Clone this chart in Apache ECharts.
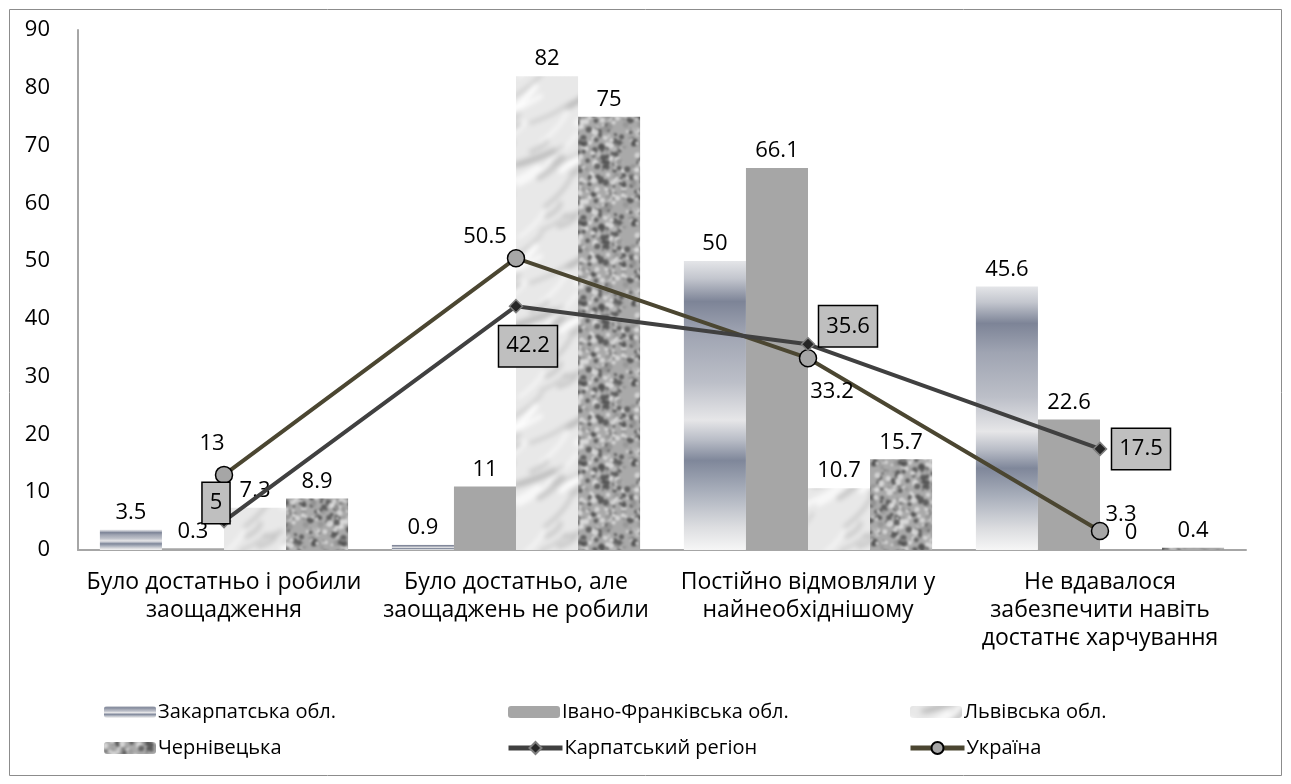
<!DOCTYPE html>
<html><head><meta charset="utf-8">
<script src="https://cdn.jsdelivr.net/npm/echarts@6/dist/echarts.min.js"></script>
<style>html,body{margin:0;padding:0;background:#fff}#c{width:1291px;height:784px}</style>
</head><body><div id="c"></div>
<script>
const categories = ["Було достатньо і робили\nзаощадження", "Було достатньо, але\nзаощаджень не робили", "Постійно відмовляли у\nнайнеобхіднішому", "Не вдавалося\nзабезпечити навіть\nдостатнє харчування"];
const zakarpatska = [3.5, 0.9, 50, 45.6];
const ivanoFrankivska = [0.3, 11, 66.1, 22.6];
const lvivska = [7.3, 82, 10.7, 0];
const chernivetska = [8.9, 75, 15.7, 0.4];
const karpatskyi = [5, 42.2, 35.6, 17.5];
const ukraina = [13, 50.5, 33.2, 3.3];
const seriesNames = ["Закарпатська обл.", "Івано-Франківська обл.", "Львівська обл.", "Чернівецька", "Карпатський регіон", "Україна"];
const yTicks = {min: 0, max: 90, interval: 10};

const FONT = "'Open Sans', 'Noto Sans', sans-serif";
const FS = 22;

// deterministic pseudo-random for textures only
let seed = 12345;
function rnd(){ seed = (seed * 1103515245 + 12345) % 2147483648; return seed / 2147483648; }

function seamlessBlur(a, w, h, blur){
  const big = document.createElement('canvas'); big.width = w*3; big.height = h*3;
  const g = big.getContext('2d');
  for (let i=0;i<3;i++) for (let j=0;j<3;j++) g.drawImage(a, i*w, j*h);
  const big2 = document.createElement('canvas'); big2.width = w*3; big2.height = h*3;
  const g2 = big2.getContext('2d'); g2.filter = 'blur(' + blur + 'px)'; g2.drawImage(big,0,0);
  const out = document.createElement('canvas'); out.width = w; out.height = h;
  out.getContext('2d').drawImage(big2, w, h, w, h, 0, 0, w, h);
  return out;
}
function granite(){
  const w = 80, h = 80;
  const a = document.createElement('canvas'); a.width = w; a.height = h;
  const c = a.getContext('2d');
  c.fillStyle = '#a9a9a9'; c.fillRect(0,0,w,h);
  for (let i=0;i<300;i++){
    const x=rnd()*w, y=rnd()*h, r=1+rnd()*2.2;
    const t=rnd();
    c.fillStyle = t<0.4 ? 'rgba(80,80,80,0.8)' : (t<0.8 ? 'rgba(220,220,220,0.85)' : 'rgba(150,150,150,0.9)');
    for (const dx of [-w,0,w]) for (const dy of [-h,0,h]){
      c.beginPath(); c.arc(x+dx,y+dy,r,0,Math.PI*2); c.fill();
    }
  }
  return seamlessBlur(a, w, h, 1);
}
function marble(){
  const w = 100, h = 160;
  const a = document.createElement('canvas'); a.width = w; a.height = h;
  const c = a.getContext('2d');
  c.fillStyle = '#e8e8e8'; c.fillRect(0,0,w,h);
  c.lineCap = 'round';
  for (let i=0;i<34;i++){
    const x=rnd()*w, y=rnd()*h, len=15+rnd()*35;
    const ang = -0.9 + rnd()*0.6;
    c.strokeStyle = rnd()<0.7 ? 'rgba(180,180,180,0.6)' : 'rgba(255,255,255,0.9)';
    c.lineWidth = 2+rnd()*5;
    for (const dx of [-w,0,w]) for (const dy of [-h,0,h]){
      c.beginPath(); c.moveTo(x+dx,y+dy);
      c.quadraticCurveTo(x+dx+len*0.5*Math.cos(ang)+6, y+dy+len*0.5*Math.sin(ang), x+dx+len*Math.cos(ang), y+dy+len*Math.sin(ang));
      c.stroke();
    }
  }
  return seamlessBlur(a, w, h, 2.5);
}
const graniteImg = granite();
const marbleImg = marble();

const metal = {type:'linear', x:0, y:0, x2:0, y2:1, colorStops:[
  {offset:0, color:'#e4e5e8'}, {offset:0.06, color:'#c3c6ce'}, {offset:0.14, color:'#7d8497'},
  {offset:0.25, color:'#9fa4b2'}, {offset:0.42, color:'#bcbfc8'}, {offset:0.55, color:'#e6e6e8'},
  {offset:0.62, color:'#b8bcc6'}, {offset:0.69, color:'#7f879a'}, {offset:0.8, color:'#aab0bc'},
  {offset:0.92, color:'#dcdde0'}, {offset:1, color:'#f6f6f6'}]};

const barLabel = {show:true, position:'top', distance:6, color:'#000', fontSize:FS, fontFamily:FONT};

const boxLabel = {show:true, position:'inside', color:'#000', fontSize:FS, fontFamily:FONT,
  backgroundColor:'#bfbfbf', borderColor:'#000', borderWidth:1.5, padding:[10,7,8,7]};
const karpOffsets = [[-8,-18],[12,40],[40,-18],[41,0]];
const ukrOffsets = [[-12,-31],[-31,-21],[24,34],[21,-16]];

const chart = echarts.init(document.getElementById('c'), null, {renderer:'canvas'});

function legendAt(name, left, top, isLine){
  const d = {name:name};
  if (isLine) d.lineStyle = {width:5};
  return {data:[d], left:left, top:top, padding:0, itemWidth:isLine?54:52, itemHeight:isLine?15:12, itemGap:0,
    textStyle:{fontSize:20, fontFamily:FONT, color:'#000', padding:[0,0,0,-3]}, selectedMode:false};
}

chart.setOption({
  animation:false,
  backgroundColor:'#fff',
  graphic:[{type:'rect', shape:{x:9.5, y:9.5, width:1272, height:766}, style:{fill:'none', stroke:'#8c8c8c', lineWidth:1}, silent:true}],
  grid:{left:78, right:45, top:30, bottom:234},
  legend:[
    legendAt(seriesNames[0], 104, 702), legendAt(seriesNames[1], 508, 702), legendAt(seriesNames[2], 910, 702),
    legendAt(seriesNames[3], 104, 738), legendAt(seriesNames[4], 506, 738, true), legendAt(seriesNames[5], 908, 738, true)
  ],
  xAxis:{type:'category', data:categories,
    axisLine:{lineStyle:{color:'#a6a6a6', width:2}}, axisTick:{show:false},
    axisLabel:{fontSize:23, fontFamily:FONT, color:'#000', lineHeight:28, margin:18, interval:0}},
  yAxis:{type:'value', min:yTicks.min, max:yTicks.max, interval:yTicks.interval,
    axisLine:{show:true, lineStyle:{color:'#a6a6a6', width:2}}, axisTick:{show:false}, splitLine:{show:false},
    axisLabel:{fontSize:FS, fontFamily:FONT, color:'#000', margin:28}},
  series:[
    {name:seriesNames[0], type:'bar', data:zakarpatska, barGap:'0%', barCategoryGap:'15%', itemStyle:{color:metal}, label:barLabel},
    {name:seriesNames[1], type:'bar', data:ivanoFrankivska, itemStyle:{color:'#a6a6a6'}, label:barLabel},
    {name:seriesNames[2], type:'bar', data:lvivska, itemStyle:{color:{image:marbleImg, repeat:'repeat'}}, label:barLabel},
    {name:seriesNames[3], type:'bar', data:chernivetska, itemStyle:{color:{image:graniteImg, repeat:'repeat'}}, label:barLabel},
    {name:seriesNames[4], type:'line', z:5, data:karpatskyi.map((v,i)=>({value:v, label:Object.assign({}, boxLabel, {offset:karpOffsets[i]})})),
      symbol:'diamond', symbolSize:13, lineStyle:{color:'#404040', width:4},
      itemStyle:{color:'#262626', borderColor:'#7f7f7f', borderWidth:1.5}, label:boxLabel},
    {name:seriesNames[5], type:'line', z:4, data:ukraina.map((v,i)=>({value:v, label:{show:true, position:'inside', color:'#000', fontSize:FS, fontFamily:FONT, offset:ukrOffsets[i]}})),
      symbol:'circle', symbolSize:17, lineStyle:{color:'#4b4631', width:4},
      itemStyle:{color:'#a6a6a6', borderColor:'#000', borderWidth:1.5}}
  ]
});
</script></body></html>
